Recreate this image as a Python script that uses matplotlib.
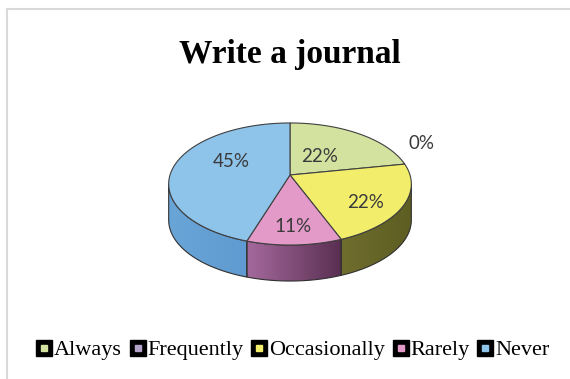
import numpy as np
import matplotlib.pyplot as plt
from matplotlib.patches import Polygon
from matplotlib.lines import Line2D
from matplotlib.colors import to_rgb


# Survey answers for "Write a journal"
categories = ["Always", "Frequently", "Occasionally", "Rarely", "Never"]
percent = [22, 0, 22, 11, 45]
top_colors = ["#d3e29f", "#b3a2c7", "#f2ee6c", "#e39ac8", "#8ec3ea"]
# wall colours at the left and right end of each slice's rim
side_colors = [
    ("#9aa870", "#8a9862"),
    ("#7d6f96", "#6a5e80"),
    ("#6f6e2e", "#5e5d22"),
    ("#a4699c", "#5a2f52"),
    ("#6aa5d8", "#5f9bd0"),
]

# label placement: distance from centre and extra lift in pixels
label_radius = [0.41, 1.15, 0.68, 0.76, 0.5]
label_lift = [0, 19, -7, 0, 9]

# Geometry of the tilted pie, in pixels
cx, cy = 290.0, 175.0  # apex of the slices
rx = 120.0  # horizontal radius
ry = 59.7  # vertical radius before perspective
persp = 0.1475  # perspective factor (front is larger than back)
depth = 36.0  # thickness of the disc


def project(theta, r=1.0):
    u = r * np.cos(theta)
    v = r * np.sin(theta)
    s = 1 + persp * v
    return cx + rx * u / s, cy - ry * v / s


fig = plt.figure(figsize=(5.7, 3.79), dpi=100)
ax = fig.add_axes([0, 0, 1, 1])
ax.set_xlim(0, 570)
ax.set_ylim(379, 0)
ax.axis("off")

# Chart area border (only top and left are visible)
ax.plot([7, 7], [9, 379], color="#d9d9d9", lw=1.5)
ax.plot([7, 570], [9, 9], color="#d9d9d9", lw=1.5)

# Slice angles, clockwise from 12 o'clock
fracs = np.array(percent, dtype=float) / sum(percent)
ends = np.pi / 2 - 2 * np.pi * np.cumsum(fracs)
starts = np.concatenate([[np.pi / 2], ends[:-1]])

# Silhouette of the disc: left and right extremes of the rim
grid = np.linspace(0, 2 * np.pi, 4000)
gx, _ = project(grid)
th_left = grid[np.argmin(gx)]
th_right = grid[np.argmax(gx)]

# Visible side walls, filled with a horizontal gradient
for a0, a1, (c_left, c_right) in zip(starts, ends, side_colors):
    lo, hi = sorted([a0, a1])
    for k in (-1, 0, 1, 2):
        s0 = max(lo + 2 * np.pi * k, th_left)
        s1 = min(hi + 2 * np.pi * k, th_right)
        if s1 <= s0:
            continue
        th = np.linspace(s0, s1, 200)
        x, y = project(th)
        pts = np.column_stack([np.r_[x, x[::-1]], np.r_[y, (y + depth)[::-1]]])
        wall = Polygon(pts, closed=True, facecolor="none", edgecolor="#303030", lw=0.8)
        ax.add_patch(wall)
        t = np.linspace(0, 1, 64)[None, :, None]
        grad = (1 - t) * np.array(to_rgb(c_left)) + t * np.array(to_rgb(c_right))
        img = ax.imshow(grad, extent=(x.min(), x.max(), y.max() + depth, y.min()),
                        aspect="auto", interpolation="bilinear", zorder=0.9)
        img.set_clip_path(wall)

# Top faces
for a0, a1, col in zip(starts, ends, top_colors):
    if a0 == a1:
        continue
    th = np.linspace(a0, a1, 200)
    x, y = project(th)
    pts = np.column_stack([np.r_[cx, x], np.r_[cy, y]])
    ax.add_patch(Polygon(pts, closed=True, facecolor=col, edgecolor="#404040",
                         lw=0.8, zorder=2))

# Percentage labels
for a0, a1, p, r, lift in zip(starts, ends, percent, label_radius, label_lift):
    mid = (a0 + a1) / 2
    x, y = project(mid, r)
    ax.text(x, y - lift, f"{p}%", ha="center", va="center", fontsize=13.5,
            family="Lato", color="#3a3a3a", zorder=3)

ax.text(290, 54, "Write a journal", ha="center", va="center", fontsize=24,
        fontweight="bold", family="Liberation Serif", color="black")

# Legend: black rounded box with a small colour square inside
handles = [
    (Line2D([], [], ls="none", marker="s", ms=11, color="black"),
     Line2D([], [], ls="none", marker="s", ms=4.5, color=c))
    for c in top_colors
]
ax.legend(handles, categories, loc="center", bbox_to_anchor=(293 / 570, 1 - 350 / 379),
          ncol=5, frameon=False, handlelength=0.7, handletextpad=0.1,
          columnspacing=0.35, borderpad=0,
          prop={"family": "Liberation Serif", "size": 16})

ax.set_xlim(0, 570)
ax.set_ylim(379, 0)
fig.savefig("out.png", dpi=100)
